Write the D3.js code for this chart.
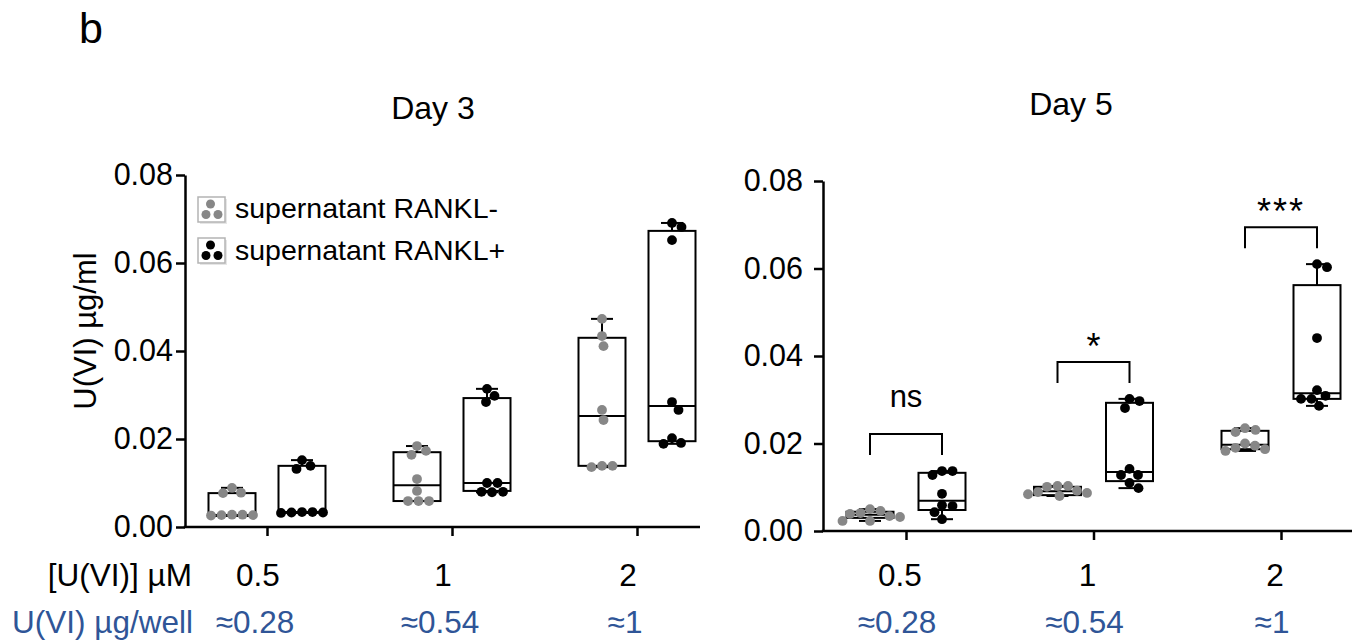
<!DOCTYPE html>
<html>
<head>
<meta charset="utf-8">
<script src="https://cdn.jsdelivr.net/npm/d3@7"></script>
<style>
  body { margin: 0; background: #fff; }
  text { font-family: "Liberation Sans", Arial, sans-serif; }
</style>
</head>
<body>
<div id="canvas"></div>
<script>
// categories
const doses = ["0.5", "1", "2"];
const massPerWell = ["≈0.28", "≈0.54", "≈1"];
const groups = ["supernatant RANKL-", "supernatant RANKL+"];
const panelTitles = ["Day 3", "Day 5"];
const sigLabels = ["ns", "*", "***"];

// Day 3, individual points per dose
const day3Minus = [
  [0.0089, 0.0078, 0.0077, 0.0028, 0.0027, 0.0026, 0.0027, 0.0028],
  [0.0184, 0.0173, 0.0164, 0.0109, 0.0082, 0.0059, 0.0059, 0.0059],
  [0.0473, 0.0434, 0.0411, 0.0266, 0.0243, 0.0139, 0.0136, 0.0139]
];
const day3Plus = [
  [0.0152, 0.0139, 0.0132, 0.0034, 0.0033, 0.0032, 0.0034, 0.0033],
  [0.0314, 0.0298, 0.0284, 0.0100, 0.0100, 0.0080, 0.0079, 0.0080],
  [0.0691, 0.0682, 0.0652, 0.0284, 0.0266, 0.0202, 0.0189, 0.0191]
];
// Day 5
const day5Minus = [
  [0.0050, 0.0046, 0.0041, 0.0039, 0.0034, 0.0032, 0.0023, 0.0023],
  [0.0103, 0.0103, 0.0101, 0.0092, 0.0089, 0.0087, 0.0084, 0.0080],
  [0.0235, 0.0231, 0.0226, 0.0200, 0.0195, 0.0190, 0.0187, 0.0183]
];
const day5Plus = [
  [0.0137, 0.0137, 0.0128, 0.0085, 0.0059, 0.0057, 0.0043, 0.0027],
  [0.0302, 0.0297, 0.0281, 0.0142, 0.0128, 0.0128, 0.0110, 0.0098],
  [0.0610, 0.0603, 0.0441, 0.0322, 0.0309, 0.0302, 0.0302, 0.0286]
];

// box stats [min, q1, median, q3, max]
const day3MinusBox = [
  [0.0025, 0.0025, 0.0027, 0.0077, 0.0089],
  [0.0059, 0.0059, 0.0095, 0.0170, 0.0184],
  [0.0136, 0.0139, 0.0252, 0.0430, 0.0473]
];
const day3PlusBox = [
  [0.0032, 0.0032, 0.0034, 0.0139, 0.0152],
  [0.0079, 0.0082, 0.0100, 0.0293, 0.0314],
  [0.0189, 0.0195, 0.0275, 0.0673, 0.0691]
];
const day5MinusBox = [
  [0.0023, 0.0030, 0.0037, 0.0044, 0.0050],
  [0.0080, 0.0082, 0.0091, 0.0101, 0.0103],
  [0.0183, 0.0187, 0.0197, 0.0229, 0.0235]
];
const day5PlusBox = [
  [0.0027, 0.0048, 0.0069, 0.0133, 0.0137],
  [0.0098, 0.0114, 0.0135, 0.0293, 0.0302],
  [0.0286, 0.0302, 0.0315, 0.0562, 0.0610]
];

const yTicks = [0, 0.02, 0.04, 0.06, 0.08];

const W = 1357, H = 644;
const colors = ["#878787", "#000000"];
const blue = "#2f5597";
const boxW = 47, capW = 22, r = 4.9;

let svg = d3.select("#canvas")
            .append("svg")
                .attr("width", W)
                .attr("height", H)
                .attr("viewBox", [0, 0, W, H]);

svg.append("text")
    .attr("x", 79).attr("y", 43)
    .attr("font-size", 43)
    .text("b");

// panel layout
const panels = [
  {title: panelTitles[0], titleX: 433, titleY: 119,
   axisX: 185, axisEnd: 700, y0: 527, y1: 175, first: 267, last: 637,
   off: 35, tickPad: 3, minus: day3Minus, plus: day3Plus,
   minusBox: day3MinusBox, plusBox: day3PlusBox, labelShift: -9},
  {title: panelTitles[1], titleX: 1071, titleY: 115,
   axisX: 823, axisEnd: 1352, y0: 531, y1: 181, first: 906, last: 1281,
   off: 36, tickPad: 11, minus: day5Minus, plus: day5Plus,
   minusBox: day5MinusBox, plusBox: day5PlusBox, labelShift: -6, sig: true}
];

panels.forEach(drawPanel);
drawLegend();

svg.append("text")
    .attr("x", 192).attr("y", 586)
    .attr("text-anchor", "end")
    .attr("font-size", 31.5)
    .text("[U(VI)] µM");
svg.append("text")
    .attr("x", 193).attr("y", 633)
    .attr("text-anchor", "end")
    .attr("font-size", 31.5)
    .attr("fill", blue)
    .text("U(VI) µg/well");

svg.append("text")
    .attr("transform", "translate(96,331) rotate(-90)")
    .attr("text-anchor", "middle")
    .attr("font-size", 31)
    .text("U(VI) µg/ml");

function drawPanel(p) {
  let y = d3.scaleLinear().domain([0, 0.08]).range([p.y0, p.y1]);
  let x = d3.scalePoint().domain(doses).range([p.first, p.last]);
  let g = svg.append("g");

  g.append("text")
      .attr("x", p.titleX).attr("y", p.titleY)
      .attr("text-anchor", "middle")
      .attr("font-size", 32)
      .text(p.title);

  let yAxis = d3.axisLeft(y)
      .tickValues(yTicks)
      .tickFormat(d3.format(".2f"))
      .tickSize(9)
      .tickSizeOuter(0)
      .tickPadding(p.tickPad);
  let gY = g.append("g")
      .attr("transform", "translate(" + p.axisX + ",0)")
      .call(yAxis);
  gY.selectAll("text").attr("font-size", 30.5).attr("font-family", "Liberation Sans").attr("fill", "#000");
  gY.selectAll("line, path").attr("stroke", "#000").attr("stroke-width", 2.5);

  let xAxis = d3.axisBottom(x).tickSize(9).tickFormat("");
  let gX = g.append("g")
      .attr("transform", "translate(0," + p.y0 + ")")
      .call(xAxis);
  gX.select(".domain").remove();
  gX.selectAll("line").attr("stroke", "#000").attr("stroke-width", 2.5);
  g.append("line")
      .attr("x1", p.axisX - 1.25).attr("x2", p.axisEnd)
      .attr("y1", p.y0).attr("y2", p.y0)
      .attr("stroke", "#000").attr("stroke-width", 2.5);

  // dose labels below
  g.selectAll(".dose")
      .data(doses)
    .enter().append("text")
      .attr("x", d => x(d) + p.labelShift)
      .attr("y", 586)
      .attr("text-anchor", "middle")
      .attr("font-size", 31.5)
      .text(d => d);
  g.selectAll(".mass")
      .data(massPerWell)
    .enter().append("text")
      .attr("x", (d, i) => x(doses[i]) + p.labelShift - 3)
      .attr("y", 633)
      .attr("text-anchor", "middle")
      .attr("font-size", 31.5)
      .attr("fill", blue)
      .text(d => d);

  doses.forEach((d, i) => {
    drawBox(g, x(d) - p.off, y, p.minusBox[i], p.minus[i], colors[0]);
    drawBox(g, x(d) + p.off, y, p.plusBox[i], p.plus[i], colors[1]);
  });

  if (p.sig) {
    doses.forEach((d, i) => {
      let top = Math.max(d3.max(p.minus[i]), d3.max(p.plus[i]));
      let legBottom = y(top) - 16;
      let barY = legBottom - 21;
      let xa = x(d) - p.off, xb = x(d) + p.off;
      g.append("path")
          .attr("d", "M" + xa + "," + legBottom + "V" + barY + "H" + xb + "V" + legBottom)
          .attr("fill", "none")
          .attr("stroke", "#000")
          .attr("stroke-width", 2);
      g.append("text")
          .attr("x", (xa + xb) / 2)
          .attr("y", sigLabels[i] == "ns" ? barY - 27 : barY - 3)
          .attr("text-anchor", "middle")
          .attr("font-size", sigLabels[i] == "ns" ? 31 : 36)
          .attr("letter-spacing", sigLabels[i] == "***" ? 2 : 0)
          .text(sigLabels[i]);
    });
  }
}

function drawBox(g, cx, y, s, pts, col) {
  let line = (x1, y1, x2, y2) => g.append("line")
      .attr("x1", x1).attr("y1", y1).attr("x2", x2).attr("y2", y2)
      .attr("stroke", "#000").attr("stroke-width", 2);
  // whiskers
  line(cx, y(s[4]), cx, y(s[3]));
  line(cx - capW / 2, y(s[4]), cx + capW / 2, y(s[4]));
  line(cx, y(s[1]), cx, y(s[0]));
  line(cx - capW / 2, y(s[0]), cx + capW / 2, y(s[0]));
  g.append("rect")
      .attr("x", cx - boxW / 2).attr("y", y(s[3]))
      .attr("width", boxW).attr("height", y(s[1]) - y(s[3]))
      .attr("fill", "none")
      .attr("stroke", "#000").attr("stroke-width", 2);
  line(cx - boxW / 2, y(s[2]), cx + boxW / 2, y(s[2]));

  // simple swarm so equal values spread sideways
  let placed = [];
  let D = 2 * r + 0.4;
  pts.slice().sort((a, b) => b - a).forEach(v => {
    let py = y(v);
    let dx = 0;
    for (let k = 0; k < 200; k++) {
      let cand = (k % 2 ? 1 : -1) * Math.ceil(k / 2) * 0.5;
      if (placed.every(q => Math.hypot(q.x - cand, q.y - py) >= D)) { dx = cand; break; }
    }
    placed.push({x: dx, y: py});
  });
  g.selectAll(null)
      .data(placed)
    .enter().append("circle")
      .attr("cx", d => cx + d.x)
      .attr("cy", d => d.y)
      .attr("r", r)
      .attr("fill", col);
}

function drawLegend() {
  let lg = svg.append("g");
  let dots = [[12.5, 6], [8, 16.5], [20, 16.5]];
  groups.forEach((name, i) => {
    let top = 197 + i * 41;
    lg.append("rect")
        .attr("x", 200).attr("y", top + 2)
        .attr("width", 27).attr("height", 25)
        .attr("fill", "#e6e6e6");
    lg.append("rect")
        .attr("x", 198).attr("y", top)
        .attr("width", 27).attr("height", 25)
        .attr("fill", "#fff")
        .attr("stroke", "#b4b4b4").attr("stroke-width", 1.5);
    dots.forEach(dp => {
      lg.append("circle")
          .attr("cx", 198 + dp[0]).attr("cy", top + dp[1] + 1)
          .attr("r", 4.5)
          .attr("fill", colors[i]);
    });
    lg.append("text")
        .attr("x", 235).attr("y", top + 21 + i * 1)
        .attr("font-family", "Lato, 'Open Sans', sans-serif")
        .attr("font-size", 28.5)
        .text(name);
  });
}
</script>
</body>
</html>
